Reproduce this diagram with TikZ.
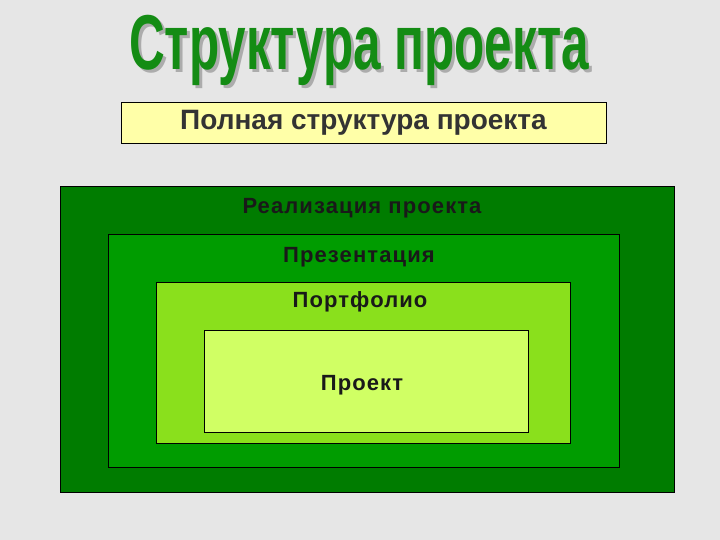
\documentclass[tikz,border=0pt]{standalone}
\usepackage{fontspec}
\setmainfont{Liberation Sans}
\newfontfamily\lblfont[LetterSpace=5]{Liberation Sans}
\definecolor{bg}{HTML}{E6E6E6}
\definecolor{titlegreen}{HTML}{148C14}
\definecolor{yellowbox}{HTML}{FFFFA8}
\definecolor{g1}{HTML}{007C00}
\definecolor{g2}{HTML}{009C00}
\definecolor{g3}{HTML}{8AE01C}
\definecolor{g4}{HTML}{D0FF64}
\newcommand{\titletext}{\scalebox{0.687}[1.08]{\fontsize{72}{80}\selectfont\bfseries Структура проекта}}
\begin{document}
\begin{tikzpicture}[x=1pt,y=-1pt,
  layer/.style={draw=black, line width=0.8pt},
  lbl/.style={font=\lblfont\fontsize{22}{26}\selectfont\bfseries, text=black!90, inner sep=0pt}]
\useasboundingbox[fill=bg] (0,0) rectangle (720,540);
% title with shadow
\node[text=gray!65, inner sep=0pt, anchor=base] at (362,73) {\titletext};
\node[text=titlegreen, inner sep=0pt, anchor=base] (title) at (359,70) {\titletext};
% yellow box
\node[draw=black, line width=0.8pt, fill=yellowbox, minimum width=485pt, minimum height=41pt, inner sep=0pt,
  text=black!80, font=\fontsize{28}{32}\selectfont\bfseries] (full) at (363.5,122.5) {Полная структура проекта};
% nested boxes
\draw[layer, fill=g1] (60,186) rectangle (674,492);
\draw[layer, fill=g2] (108,234) rectangle (619,467);
\draw[layer, fill=g3] (156,282) rectangle (570,443);
\draw[layer, fill=g4] (204,330) rectangle (528,432);
\node[lbl, anchor=base] (real) at (362,214) {Реализация проекта};
\node[lbl, anchor=base] (pres) at (359,262) {Презентация};
\node[lbl, anchor=base] (port) at (360,307) {Портфолио};
\node[lbl, anchor=base] (proj) at (362,390) {Проект};
\end{tikzpicture}
\end{document}
